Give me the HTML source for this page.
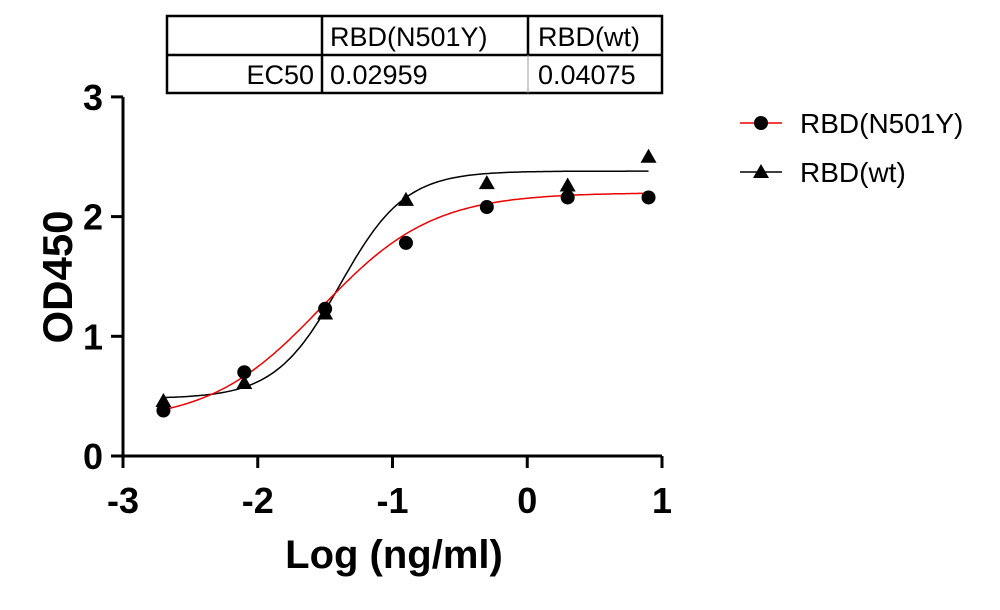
<!DOCTYPE html>
<html><head><meta charset="utf-8"><style>
body{margin:0;background:#fff;width:1000px;height:605px;overflow:hidden}
svg text{font-family:"Liberation Sans",Arial,sans-serif}
</style></head><body>
<svg id="chart" width="1000" height="605" viewBox="0 0 1000 605">
<g>
<rect x="167" y="16" width="495" height="77" fill="none" stroke="#000" stroke-width="2.5"/>
<line x1="167" y1="55" x2="662" y2="55" stroke="#000" stroke-width="2.5"/>
<line x1="322" y1="16" x2="322" y2="93" stroke="#000" stroke-width="2.5"/>
<line x1="528" y1="16" x2="528" y2="55" stroke="#000" stroke-width="2.5"/>
<line x1="528" y1="55" x2="528" y2="93" stroke="#999" stroke-width="1"/>
<text x="330" y="46" font-size="27">RBD(N501Y)</text>
<text x="538" y="46" font-size="27">RBD(wt)</text>
<text x="314" y="84" font-size="27" text-anchor="end">EC50</text>
<text x="330" y="84" font-size="27">0.02959</text>
<text x="538" y="84" font-size="27">0.04075</text>
</g>
<g id="axes"></g>
<g id="plot"></g>
<text transform="translate(72,277) rotate(-90)" font-size="42" font-weight="bold" text-anchor="middle">OD450</text>
<text x="394" y="568" font-size="40" font-weight="bold" text-anchor="middle">Log (ng/ml)</text>
<g>
<line x1="740" y1="123" x2="782" y2="123" stroke="#e00" stroke-width="1.5"/>
<circle cx="761" cy="123" r="7" fill="#000"/>
<text x="800" y="133" font-size="28">RBD(N501Y)</text>
<line x1="740" y1="172" x2="782" y2="172" stroke="#000" stroke-width="1.5"/>
<polygon points="761,164 769,178 753,178" fill="#000"/>
<text x="800" y="182" font-size="28">RBD(wt)</text>
</g>
</svg>
<script>
const logConc = [-2.7, -2.1, -1.5, -0.9, -0.3, 0.3, 0.9];
const odN501Y = [0.38, 0.70, 1.23, 1.78, 2.08, 2.16, 2.16];
const odWt = [0.46, 0.61, 1.19, 2.14, 2.28, 2.26, 2.50];
const fitN501Y = [0.28, 2.20, -1.529, 1.05]; // bottom, top, logEC50, hill
const fitWt = [0.48, 2.38, -1.39, 1.8];
const xTicks = [-3, -2, -1, 0, 1];
const yTicks = [0, 1, 2, 3];

const NS = "http://www.w3.org/2000/svg";
const X = v => 123 + (v + 3) * 134.75;
const Y = v => 456 - v * 119.7;
function mk(tag, attrs, parent){const e=document.createElementNS(NS,tag);for(const k in attrs)e.setAttribute(k,attrs[k]);parent.appendChild(e);return e;}
const axes = document.getElementById('axes'), plot = document.getElementById('plot');

let e = mk('line',{x1:X(-3),y1:Y(0),x2:X(1),y2:Y(0),stroke:'#000','stroke-width':3},axes);


e = mk('line',{x1:X(-3),y1:Y(0)+1.5,x2:X(-3),y2:Y(3),stroke:'#000','stroke-width':3},axes);


xTicks.forEach(t=>{
  mk('line',{x1:X(t),y1:Y(0),x2:X(t),y2:Y(0)+12,stroke:'#000','stroke-width':3},axes);
  const tx = mk('text',{x:X(t),y:Y(0)+57,'font-size':36,'font-weight':'bold','text-anchor':'middle'},axes);
  tx.textContent = t;
  
  
});
yTicks.forEach(t=>{
  mk('line',{x1:X(-3)-12,y1:Y(t),x2:X(-3),y2:Y(t),stroke:'#000','stroke-width':3},axes);
  const tx = mk('text',{x:X(-3)-20,y:Y(t)+13,'font-size':36,'font-weight':'bold','text-anchor':'end'},axes);
  tx.textContent = t;
  
  
});
function curve(p){let d='';for(let i=0;i<=200;i++){const x=-2.7+3.6*i/200;const y=p[0]+(p[1]-p[0])/(1+Math.pow(10,(p[2]-x)*p[3]));d+=(i?'L':'M')+X(x).toFixed(1)+','+Y(y).toFixed(1);}return d;}
e = mk('path',{d:curve(fitWt),fill:'none',stroke:'#000','stroke-width':1.5},plot);


e = mk('path',{d:curve(fitN501Y),fill:'none',stroke:'#e00','stroke-width':1.5},plot);


logConc.forEach((x,i)=>{
  const c = mk('circle',{cx:X(x),cy:Y(odN501Y[i]),r:7,fill:'#000'},plot);
  
  
  const px=X(x), py=Y(odWt[i]);
  const t = mk('polygon',{points:`${px},${py-8} ${px+8},${py+6} ${px-8},${py+6}`,fill:'#000'},plot);
  
  
});
</script>
</body></html>
